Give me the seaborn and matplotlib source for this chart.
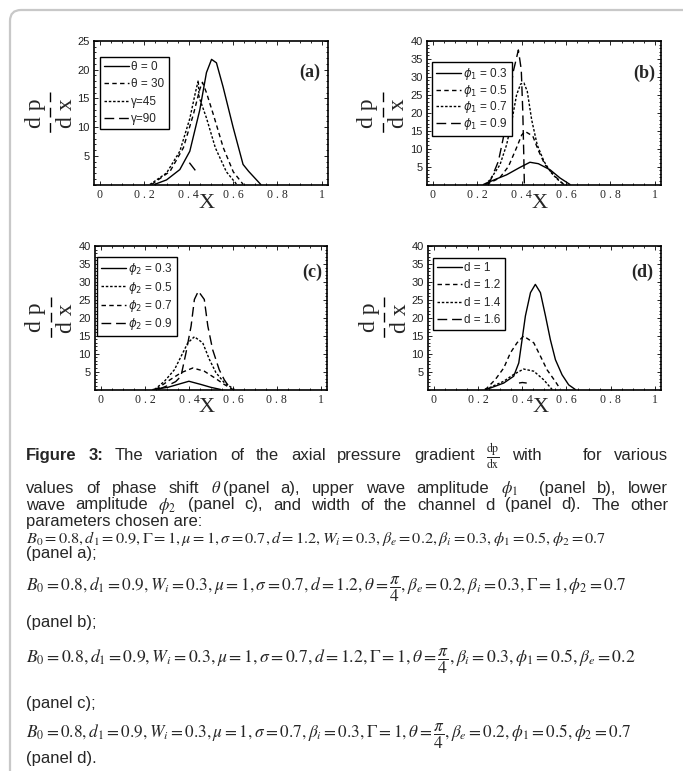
import matplotlib
matplotlib.use("Agg")
import matplotlib.pyplot as plt
import seaborn as sns
from matplotlib.patches import FancyBboxPatch
from matplotlib.lines import Line2D
from matplotlib.transforms import IdentityTransform
from matplotlib.ticker import MultipleLocator

W, H = 683, 771

# axis ticks
x_ticks = [0, 0.2, 0.4, 0.6, 0.8, 1.0]
x_tick_labels = ["0", "0 . 2", "0 . 4", "0 . 6", "0 . 8", "1"]
y_ticks_a = [5, 10, 15, 20, 25]
y_ticks_bcd = [5, 10, 15, 20, 25, 30, 35, 40]

# panel (a): phase shift
a_labels = ["θ = 0", "θ = 30", "γ=45", "γ=90"]
a_theta0_x = [0.245, 0.30, 0.36, 0.405, 0.45, 0.48, 0.503, 0.525, 0.555, 0.60, 0.645, 0.67, 0.725]
a_theta0_y = [0.0, 0.8, 2.6, 5.8, 13.0, 19.5, 21.8, 21.2, 17.0, 10.0, 3.5, 2.3, 0.0]
a_theta30_x = [0.233, 0.316, 0.376, 0.421, 0.45, 0.462, 0.48, 0.511, 0.556, 0.601, 0.646]
a_theta30_y = [0.0, 2.3, 6.4, 12.2, 16.6, 17.8, 16.0, 12.2, 6.4, 2.2, 0.0]
a_gamma45_x = [0.225, 0.30, 0.36, 0.405, 0.43, 0.443, 0.447, 0.48, 0.52, 0.57, 0.617]
a_gamma45_y = [0.0, 2.0, 5.8, 11.5, 16.0, 18.1, 15.2, 11.6, 6.4, 2.2, 0.0]
a_gamma90_x = [0.403, 0.439]
a_gamma90_y = [3.8, 2.0]

# panel (b): upper wave amplitude
b_labels = [r"$\phi_1$ = 0.3", r"$\phi_1$ = 0.5", r"$\phi_1$ = 0.7", r"$\phi_1$ = 0.9"]
b_phi03_x = [0.227, 0.28, 0.332, 0.39, 0.437, 0.475, 0.528, 0.573, 0.618]
b_phi03_y = [0.0, 1.4, 2.7, 4.7, 6.2, 5.8, 4.1, 1.8, 0.0]
b_phi05_x = [0.24, 0.30, 0.34, 0.375, 0.40, 0.415, 0.45, 0.475, 0.505, 0.55, 0.59]
b_phi05_y = [0.0, 1.8, 5.0, 10.0, 13.8, 14.8, 13.5, 9.5, 5.5, 2.3, 0.0]
b_phi07_x = [0.234, 0.257, 0.302, 0.332, 0.355, 0.377, 0.395, 0.41, 0.425, 0.445, 0.47, 0.50, 0.53, 0.56, 0.59]
b_phi07_y = [0.0, 1.3, 5.5, 11.1, 17.6, 25.0, 28.0, 28.3, 26.0, 18.0, 11.0, 6.5, 3.5, 1.5, 0.0]
b_phi09_x = [0.25, 0.264, 0.295, 0.317, 0.34, 0.362, 0.385, 0.398, 0.405, 0.409, 0.412]
b_phi09_y = [0.0, 1.8, 6.5, 13.0, 22.2, 31.5, 37.5, 32.0, 20.0, 9.0, 0.0]

# panel (c): lower wave amplitude
c_labels = [r"$\phi_2$ = 0.3", r"$\phi_2$ = 0.5", r"$\phi_2$ = 0.7", r"$\phi_2$ = 0.9"]
c_phi03_x = [0.236, 0.304, 0.349, 0.40, 0.455, 0.50, 0.545]
c_phi03_y = [0.0, 0.6, 1.4, 2.3, 1.4, 0.6, 0.0]
c_phi05_x = [0.244, 0.289, 0.334, 0.365, 0.395, 0.425, 0.463, 0.493, 0.523, 0.561, 0.607]
c_phi05_y = [0.0, 2.3, 5.5, 9.3, 13.0, 14.7, 13.0, 8.4, 4.7, 1.9, 0.0]
c_phi07_x = [0.25, 0.304, 0.365, 0.418, 0.47, 0.516, 0.561, 0.60]
c_phi07_y = [0.0, 2.3, 4.7, 6.0, 5.1, 3.3, 1.4, 0.0]
c_phi09_x = [0.26, 0.30, 0.34, 0.364, 0.387, 0.41, 0.425, 0.443, 0.47, 0.486, 0.508, 0.538, 0.561, 0.591]
c_phi09_y = [0.0, 1.0, 2.2, 3.7, 10.3, 17.7, 25.1, 27.4, 25.1, 17.7, 11.1, 5.5, 2.7, 0.0]

# panel (d): channel width
d_labels = ["d = 1", "d = 1.2", "d = 1.4", "d = 1.6"]
d_d10_x = [0.233, 0.255, 0.316, 0.361, 0.384, 0.399, 0.414, 0.437, 0.459, 0.482, 0.505, 0.527, 0.55, 0.58, 0.61, 0.64]
d_d10_y = [0.0, 0.4, 1.8, 3.7, 7.4, 13.9, 20.5, 27.0, 29.3, 27.0, 20.5, 13.9, 8.3, 4.1, 1.3, 0.0]
d_d12_x = [0.23, 0.24, 0.278, 0.316, 0.346, 0.376, 0.406, 0.452, 0.482, 0.512, 0.55, 0.573]
d_d12_y = [0.0, 0.4, 2.8, 6.0, 10.2, 13.0, 14.9, 13.0, 9.3, 5.5, 2.2, 0.0]
d_d14_x = [0.233, 0.255, 0.316, 0.361, 0.406, 0.452, 0.497, 0.535]
d_d14_y = [0.0, 0.6, 2.3, 4.2, 5.7, 5.1, 2.7, 0.0]
d_d16_x = [0.385, 0.40, 0.42]
d_d16_y = [1.8, 1.95, 1.8]

SOLID = "-"
DASH = (0, (3.2, 2.4))
FINE = (0, (1.8, 1.3))
LONG = (0, (7, 3.5))

panels = [
    dict(rect=(94, 41, 328, 184.5), ymax=25, yticks=y_ticks_a, tag="(a)", tagpos=(0.966, 0.784),
         leg=(0.026, 0.889), spacing=0.45,
         curves=[(a_theta0_x, a_theta0_y, SOLID), (a_theta30_x, a_theta30_y, DASH),
                 (a_gamma45_x, a_gamma45_y, FINE), (a_gamma90_x, a_gamma90_y, LONG)],
         labels=a_labels),
    dict(rect=(427, 41, 661, 184.5), ymax=40, yticks=y_ticks_bcd, tag="(b)", tagpos=(0.974, 0.774),
         leg=(0.021, 0.854), spacing=0.05,
         curves=[(b_phi03_x, b_phi03_y, SOLID), (b_phi05_x, b_phi05_y, DASH),
                 (b_phi07_x, b_phi07_y, FINE), (b_phi09_x, b_phi09_y, LONG)],
         labels=b_labels),
    dict(rect=(95, 246, 327, 389.5), ymax=40, yticks=y_ticks_bcd, tag="(c)", tagpos=(0.978, 0.815),
         leg=(0.009, 0.923), spacing=0.2,
         curves=[(c_phi03_x, c_phi03_y, SOLID), (c_phi05_x, c_phi05_y, FINE),
                 (c_phi07_x, c_phi07_y, DASH), (c_phi09_x, c_phi09_y, LONG)],
         labels=c_labels),
    dict(rect=(428, 246, 661, 389.5), ymax=40, yticks=y_ticks_bcd, tag="(d)", tagpos=(0.966, 0.815),
         leg=(0.021, 0.916), spacing=0.45,
         curves=[(d_d10_x, d_d10_y, SOLID), (d_d12_x, d_d12_y, DASH),
                 (d_d14_x, d_d14_y, FINE), (d_d16_x, d_d16_y, LONG)],
         labels=d_labels),
]

sns.set_style("ticks")
plt.rcParams["font.family"] = ["Liberation Sans", "DejaVu Sans"]

fig = plt.figure(figsize=(W / 100, H / 100), dpi=100)


def fy(y):
    return 1 - y / H


# rounded frame around the figure
fig.add_artist(FancyBboxPatch((10, -30), 700, H - 10 + 30, boxstyle="round,pad=0,rounding_size=11",
                              transform=IdentityTransform(), fill=False, edgecolor="#c8c8c8", lw=1.6))

for p in panels:
    l, t, r, b = p["rect"]
    ax = fig.add_axes([l / W, fy(b), (r - l) / W, (b - t) / H])
    for (xs, ys, ls), lab in zip(p["curves"], p["labels"]):
        sns.lineplot(x=xs, y=ys, ax=ax, color="black", lw=1.0, linestyle=ls, label=lab,
                     estimator=None, sort=False)
    ax.set_xlim(-0.027, 1.028)
    ax.set_ylim(0, p["ymax"])
    ax.set_xticks(x_ticks)
    ax.set_xticklabels(x_tick_labels, fontfamily="Liberation Serif", fontsize=8.5)
    ax.set_yticks(p["yticks"])
    ax.set_yticklabels([str(v) for v in p["yticks"]], fontfamily="Liberation Sans", fontsize=8, color="#222222")
    ax.xaxis.set_minor_locator(MultipleLocator(0.05))
    ax.yaxis.set_minor_locator(MultipleLocator(1))
    ax.tick_params(which="both", direction="in", top=True, right=True, width=0.6, color="black")
    ax.tick_params(which="major", length=3, pad=3)
    ax.tick_params(which="minor", length=1.6)
    for sp in ax.spines.values():
        sp.set_linewidth(1.2)
        sp.set_color("black")
    ax.set_xlabel("")
    ax.set_ylabel("")
    leg = ax.legend(loc="upper left", bbox_to_anchor=p["leg"], frameon=True, fancybox=False,
                    edgecolor="black", framealpha=1, fontsize=8.5, borderpad=0.35,
                    handlelength=2.1, handletextpad=0.2, labelspacing=p["spacing"], borderaxespad=0)
    leg.get_frame().set_linewidth(1.0)
    ax.text(p["tagpos"][0], p["tagpos"][1], p["tag"], transform=ax.transAxes, ha="right", va="center",
            fontfamily="Liberation Serif", fontweight="bold", fontsize=13)

    # dp/dx label, rotated like the original
    yc = (t + b) / 2
    fig.text((l - 59) / W, fy(yc), "d p", rotation=90, ha="center", va="center",
             fontfamily="Liberation Serif", fontsize=17)
    fig.text((l - 28) / W, fy(yc), "d x", rotation=90, ha="center", va="center",
             fontfamily="Liberation Serif", fontsize=17)
    fig.add_artist(Line2D([(l - 44) / W, (l - 44) / W], [fy(yc - 21), fy(yc + 21)],
                          transform=fig.transFigure, color="black", lw=1.0, linestyle=(0, (7, 4))))
    fig.text((l + r) / 2 / W - 4 / W, fy(b + 18.5), "X", ha="center", va="center",
             fontfamily="Liberation Serif", fontsize=16)

# caption
renderer = fig.canvas.get_renderer()
cap_styles = {
    "bold": dict(fontfamily="Liberation Sans", fontweight="bold", fontsize=12),
    "sans": dict(fontfamily="Liberation Sans", fontsize=12),
    "math": dict(fontsize=12, math_fontfamily="stix"),
    "frac": dict(fontsize=8.5, math_fontfamily="stix"),
}


def place_line(tokens, base_y, left=26, right=None):
    items = []
    for text, kind, glue in tokens:
        if kind == "gap":
            items.append((None, float(text), glue))
            continue
        txt = fig.text(0, fy(base_y), text, ha="left", va="baseline", **cap_styles[kind])
        items.append((txt, txt.get_window_extent(renderer).width, glue))
    natural = sum(w for _, w, _ in items)
    glue_sum = sum(g for _, _, g in items[:-1])
    space = (right - left - natural) / glue_sum if right else 4.2
    x = left
    for txt, w, g in items:
        if txt is not None:
            txt.set_x(x / W)
        x += w + g * space


def words(s, kind="sans"):
    return [(w, kind, 1) for w in s.split()]


line1 = (words("Figure 3:", "bold") + words("The variation of the axial pressure gradient")
         + [(r"$\dfrac{\mathrm{dp}}{\mathrm{dx}}$", "frac", 1), ("with", "sans", 1), ("18", "gap", 1)]
         + words("for various"))
line2 = (words("values of phase shift") + [(r"$\theta$", "math", 0.15)]
         + words("(panel a), upper wave amplitude") + [(r"$\phi_1$", "math", 1.8)]
         + words("(panel b), lower"))
line3 = (words("wave amplitude") + [(r"$\phi_2$", "math", 1.2)]
         + words("(panel c), and width of the channel d (panel d). The other"))

place_line(line1, 460, right=668)
place_line(line2, 493.3, right=668)
place_line(line3, 509.5, right=668)
place_line([("parameters chosen are:", "sans", 0)], 526)

math_lines = [
    r"$B_0=0.8,d_1=0.9,\Gamma=1,\mu=1,\sigma=0.7,d=1.2,W_i=0.3,\beta_e=0.2,\beta_i=0.3,\phi_1=0.5,\phi_2=0.7$",
    r"$B_0=0.8,d_1=0.9,W_i=0.3,\mu=1,\sigma=0.7,d=1.2,\theta=\dfrac{\pi}{4},\beta_e=0.2,\beta_i=0.3,\Gamma=1,\phi_2=0.7$",
    r"$B_0=0.8,d_1=0.9,W_i=0.3,\mu=1,\sigma=0.7,d=1.2,\Gamma=1,\theta=\dfrac{\pi}{4},\beta_i=0.3,\phi_1=0.5,\beta_e=0.2$",
    r"$B_0=0.8,d_1=0.9,W_i=0.3,\mu=1,\sigma=0.7,\beta_i=0.3,\Gamma=1,\theta=\dfrac{\pi}{4},\beta_e=0.2,\phi_1=0.5,\phi_2=0.7$",
]
math_base = [542.5, 590.7, 662.7, 737.7]
math_right = [608, 627, 635, 629]
panel_notes = ["(panel a);", "(panel b);", "(panel c);", "(panel d)."]
panel_base = [558, 626.7, 708, 763]

for s, yb, xr in zip(math_lines, math_base, math_right):
    txt = fig.text(26 / W, fy(yb), s, ha="left", va="baseline", fontsize=10, math_fontfamily="stix")
    w = txt.get_window_extent(renderer).width
    txt.set_fontsize(10 * (xr - 26) / w)

for s, yb in zip(panel_notes, panel_base):
    fig.text(26 / W, fy(yb), s, ha="left", va="baseline", fontfamily="Liberation Sans", fontsize=12)

fig.savefig("out.png", dpi=100)
